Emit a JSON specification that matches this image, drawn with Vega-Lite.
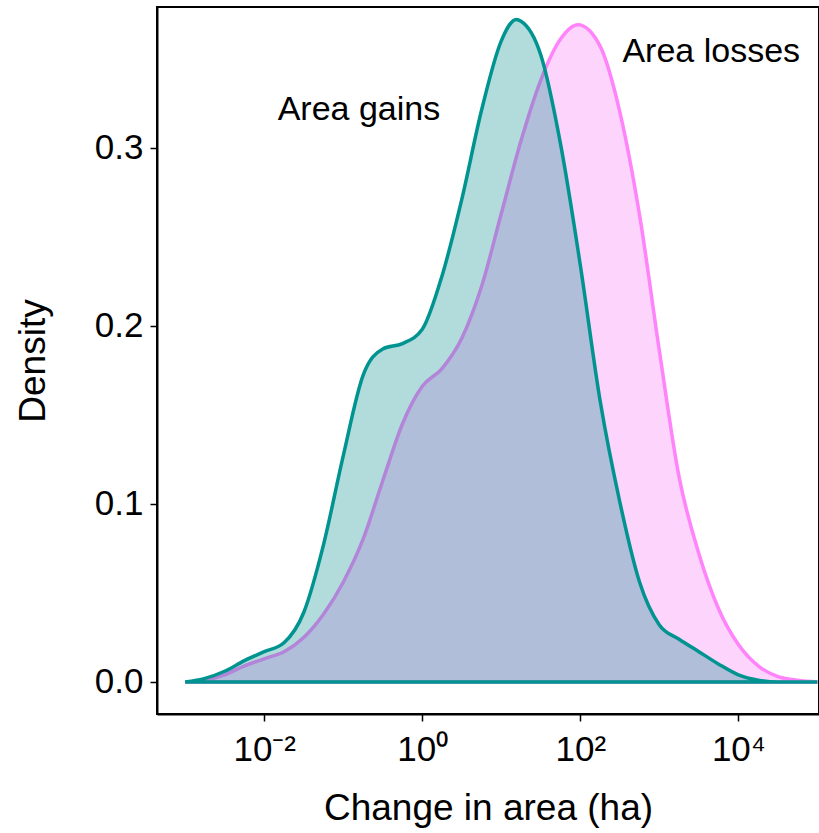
{
  "$schema": "https://vega.github.io/schema/vega-lite/v6.json",
  "width": 662,
  "height": 707,
  "autosize": {"type": "none"},
  "padding": {"left": 157, "top": 7, "right": 0, "bottom": 119},
  "background": "white",
  "config": {
    "view": {"stroke": "black", "strokeWidth": 2},
    "font": "Liberation Sans",
    "axis": {
      "grid": false,
      "domainColor": "black",
      "domainWidth": 2,
      "tickColor": "black",
      "tickWidth": 1.5,
      "tickSize": 7,
      "labelColor": "black",
      "labelFont": "Liberation Sans",
      "labelFontSize": 35,
      "titleColor": "black",
      "titleFont": "Liberation Sans",
      "titleFontSize": 37,
      "titleFontWeight": "normal"
    }
  },
  "datasets": {
    "dens": [
      {"x": 0.001, "y": 0, "g": "gains"},
      {"x": 0.001778, "y": 0.002, "g": "gains"},
      {"x": 0.003162, "y": 0.006, "g": "gains"},
      {"x": 0.005623, "y": 0.012, "g": "gains"},
      {"x": 0.01, "y": 0.017, "g": "gains"},
      {"x": 0.01778, "y": 0.022, "g": "gains"},
      {"x": 0.03162, "y": 0.039, "g": "gains"},
      {"x": 0.05623, "y": 0.077, "g": "gains"},
      {"x": 0.1, "y": 0.127, "g": "gains"},
      {"x": 0.1778, "y": 0.172, "g": "gains"},
      {"x": 0.3162, "y": 0.187, "g": "gains"},
      {"x": 0.5623, "y": 0.190, "g": "gains"},
      {"x": 1, "y": 0.198, "g": "gains"},
      {"x": 1.778, "y": 0.228, "g": "gains"},
      {"x": 3.162, "y": 0.271, "g": "gains"},
      {"x": 5.623, "y": 0.321, "g": "gains"},
      {"x": 10, "y": 0.360, "g": "gains"},
      {"x": 15.49, "y": 0.372, "g": "gains"},
      {"x": 17.78, "y": 0.371, "g": "gains"},
      {"x": 31.62, "y": 0.352, "g": "gains"},
      {"x": 56.23, "y": 0.302, "g": "gains"},
      {"x": 100, "y": 0.234, "g": "gains"},
      {"x": 177.8, "y": 0.158, "g": "gains"},
      {"x": 316.2, "y": 0.101, "g": "gains"},
      {"x": 562.3, "y": 0.056, "g": "gains"},
      {"x": 1000, "y": 0.032, "g": "gains"},
      {"x": 1778, "y": 0.024, "g": "gains"},
      {"x": 3162, "y": 0.017, "g": "gains"},
      {"x": 5623, "y": 0.010, "g": "gains"},
      {"x": 10000, "y": 0.004, "g": "gains"},
      {"x": 17783, "y": 0.001, "g": "gains"},
      {"x": 31623, "y": 0.0, "g": "gains"},
      {"x": 56234, "y": 0, "g": "gains"},
      {"x": 100000, "y": 0, "g": "gains"},
      {"x": 0.001, "y": 0, "g": "losses"},
      {"x": 0.001778, "y": 0.001, "g": "losses"},
      {"x": 0.003162, "y": 0.004, "g": "losses"},
      {"x": 0.005623, "y": 0.009, "g": "losses"},
      {"x": 0.01, "y": 0.013, "g": "losses"},
      {"x": 0.01778, "y": 0.017, "g": "losses"},
      {"x": 0.03162, "y": 0.025, "g": "losses"},
      {"x": 0.05623, "y": 0.038, "g": "losses"},
      {"x": 0.1, "y": 0.056, "g": "losses"},
      {"x": 0.1778, "y": 0.080, "g": "losses"},
      {"x": 0.3162, "y": 0.113, "g": "losses"},
      {"x": 0.5623, "y": 0.145, "g": "losses"},
      {"x": 1, "y": 0.166, "g": "losses"},
      {"x": 1.778, "y": 0.176, "g": "losses"},
      {"x": 3.162, "y": 0.193, "g": "losses"},
      {"x": 5.623, "y": 0.222, "g": "losses"},
      {"x": 10, "y": 0.263, "g": "losses"},
      {"x": 17.78, "y": 0.304, "g": "losses"},
      {"x": 31.62, "y": 0.338, "g": "losses"},
      {"x": 56.23, "y": 0.361, "g": "losses"},
      {"x": 93.3, "y": 0.369, "g": "losses"},
      {"x": 177.8, "y": 0.357, "g": "losses"},
      {"x": 316.2, "y": 0.320, "g": "losses"},
      {"x": 562.3, "y": 0.262, "g": "losses"},
      {"x": 1000, "y": 0.186, "g": "losses"},
      {"x": 1778, "y": 0.115, "g": "losses"},
      {"x": 3162, "y": 0.072, "g": "losses"},
      {"x": 5623, "y": 0.041, "g": "losses"},
      {"x": 10000, "y": 0.021, "g": "losses"},
      {"x": 17783, "y": 0.009, "g": "losses"},
      {"x": 31623, "y": 0.003, "g": "losses"},
      {"x": 56234, "y": 0.001, "g": "losses"},
      {"x": 100000, "y": 0, "g": "losses"}
    ],
    "labels": [
      {"x": 0.158, "y": 0.321, "label": "Area gains"},
      {"x": 4530, "y": 0.354, "label": "Area losses"}
    ]
  },
  "encoding": {
    "x": {
      "field": "x",
      "type": "quantitative",
      "scale": {"type": "log", "domain": [0.00044, 104700], "nice": false, "zero": false},
      "axis": {
        "values": [0.01, 1, 100, 10000],
        "labelExpr": "round(log(datum.value)/LN10) == -2 ? '10⁻²' : round(log(datum.value)/LN10) == 0 ? '10⁰' : round(log(datum.value)/LN10) == 2 ? '10²' : '10⁴'",
        "labelPadding": 11,
        "title": "Change in area (ha)",
        "titlePadding": 23
      }
    },
    "y": {
      "field": "y",
      "type": "quantitative",
      "scale": {"domain": [-0.018, 0.379], "nice": false, "zero": false},
      "axis": {
        "values": [0, 0.1, 0.2, 0.3],
        "format": ".1f",
        "labelPadding": 7,
        "title": "Density",
        "titlePadding": 42
      }
    }
  },
  "layer": [
    {
      "data": {"name": "dens"},
      "transform": [{"filter": "datum.g == 'losses'"}],
      "mark": {"type": "area", "interpolate": "monotone", "fill": "#f870f5", "fillOpacity": 0.3, "stroke": "#ff83fa", "strokeWidth": 3.5}
    },
    {
      "data": {"name": "dens"},
      "transform": [{"filter": "datum.g == 'gains'"}],
      "mark": {"type": "area", "interpolate": "monotone", "fill": "#008b8b", "fillOpacity": 0.3, "stroke": "#009390", "strokeWidth": 3.5}
    },
    {
      "data": {"name": "labels"},
      "mark": {"type": "text", "fontSize": 34, "font": "Liberation Sans", "color": "black", "align": "center", "baseline": "middle"},
      "encoding": {"text": {"field": "label", "type": "nominal"}}
    }
  ]
}
